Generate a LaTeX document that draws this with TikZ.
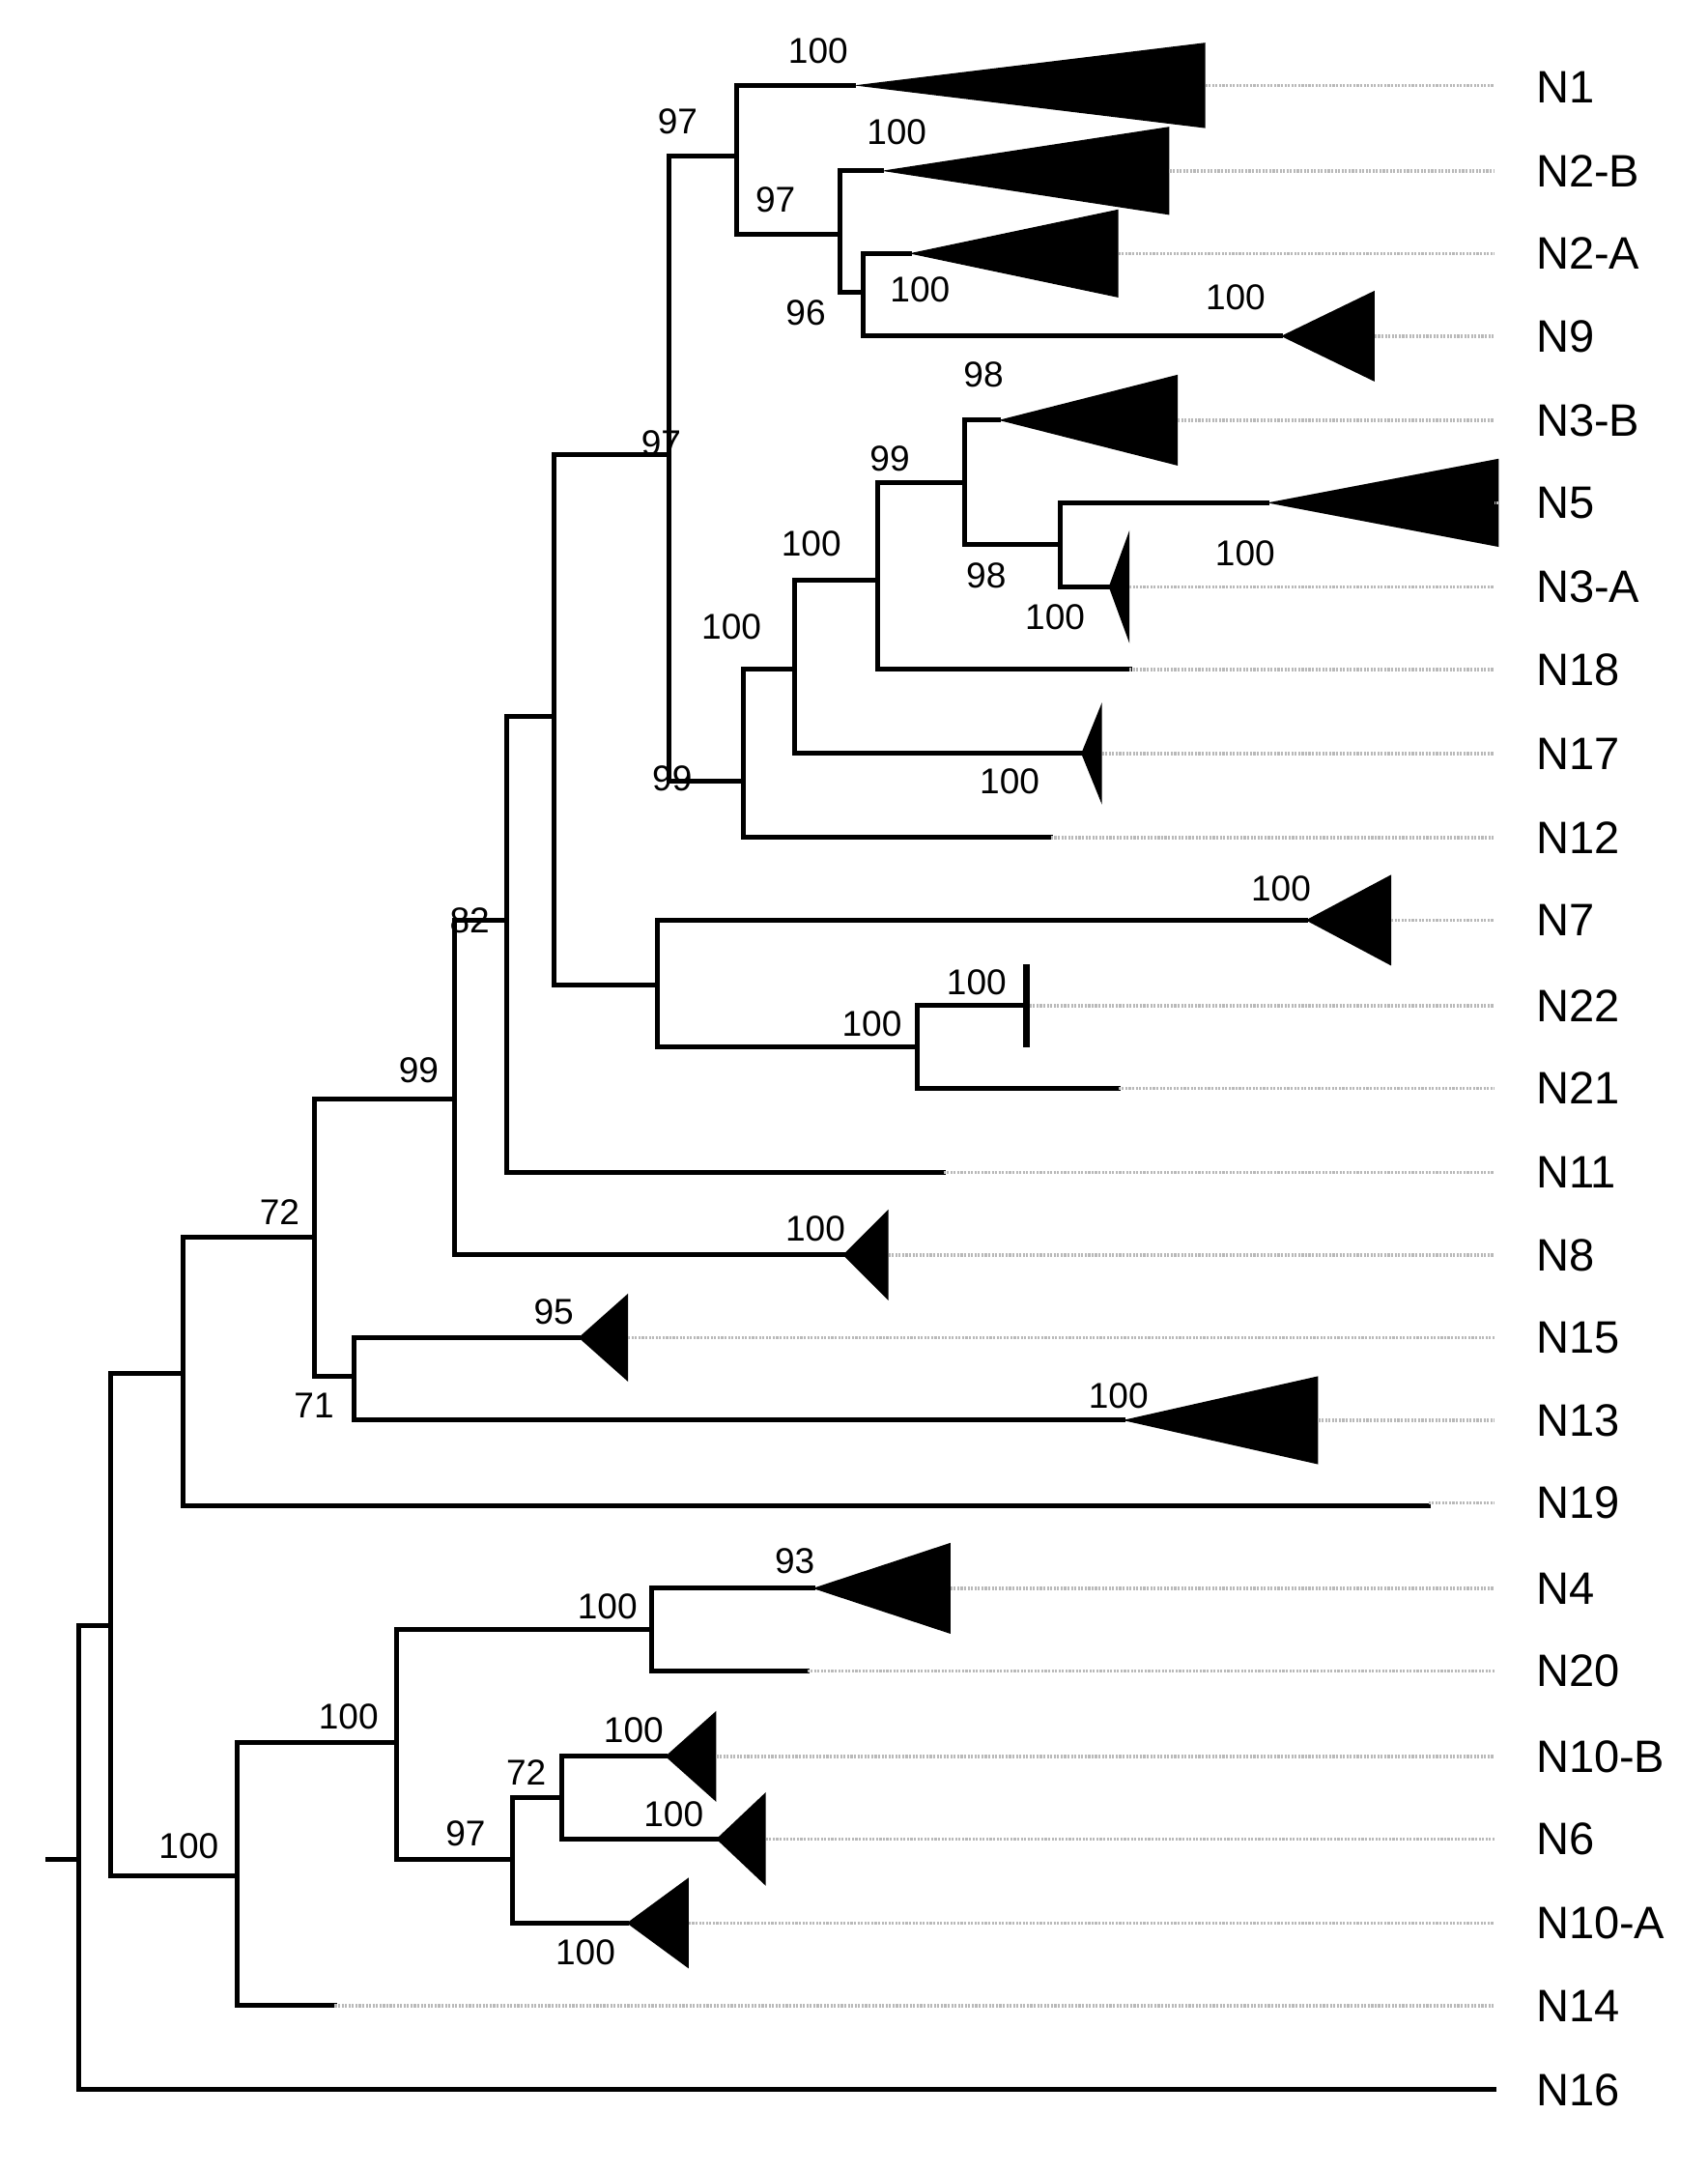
\documentclass[tikz,border=0pt]{standalone}
\usepackage{fontspec}
\setmainfont{Liberation Sans}
\begin{document}
\begin{tikzpicture}[x=1pt,y=-1pt,
  br/.style={line width=3.5pt,line cap=rect},
  dot/.style={gray!55,line width=2.5pt,dash pattern=on 1.5pt off 1pt},
  tri/.style={fill=black},
  sup/.style={font=\fontsize{26}{26}\selectfont,inner sep=0pt},
  lab/.style={font=\fontsize{33}{33}\selectfont,anchor=west,inner sep=0pt}]
\useasboundingbox (0,0) rectangle (1240,1576);
\newcommand\tclade[5]{\draw[br] (#2,#1) -- (#3,#1);
  \fill (#3,#1) -- (#4,#1-#5) -- (#4,#1+#5) -- cycle;
  \draw[dot] (#4,#1) -- (1085,#1);}
\newcommand\tleaf[3]{\draw[br] (#2,#1) -- (#3,#1); \draw[dot] (#3,#1) -- (1085,#1);}
\newcommand\vbar[3]{\draw[br] (#1,#2) -- (#1,#3);}
\foreach \t/\y in {N1/63,N2-B/124,N2-A/184,N9/244,N3-B/305,N5/365,N3-A/426,N18/486,N17/547,N12/608,N7/668,N22/730,N21/790,N11/851,N8/911,N15/971,N13/1031,N19/1091,N4/1153,N20/1213,N10-B/1275,N6/1335,N10-A/1396,N14/1456,N16/1517}
  \node[lab] (l\t) at (1115,\y) {\t};
\draw[br] (35,1350) -- (57,1350);
\vbar{57}{1180}{1517}
\draw[br] (57,1517) -- (1085,1517);
\draw[br] (57,1180) -- (80,1180);
\vbar{80}{997}{1362}
\draw[br] (80,997) -- (133,997); \draw[br] (80,1362) -- (172,1362);
\vbar{133}{898}{1093}
\draw[br] (133,898) -- (228,898);
\draw[br] (133,1093) -- (1037,1093); \draw[dot] (1037,1091) -- (1085,1091);
\vbar{228}{798}{999}
\draw[br] (228,798) -- (330,798); \draw[br] (228,999) -- (257,999);
\vbar{257}{971}{1031}
\tclade{971}{257}{420}{456}{32}
\tclade{1031}{257}{815}{957}{32}
\vbar{330}{668}{911}
\draw[br] (330,668) -- (368,668);
\tclade{911}{330}{612}{645}{33}
\vbar{368}{520}{851}
\draw[br] (368,520) -- (402,520);
\tleaf{851}{368}{685}
\vbar{402}{330}{715}
\draw[br] (402,330) -- (486,330); \draw[br] (402,715) -- (477,715);
\vbar{486}{113}{567}
\draw[br] (486,113) -- (535,113); \draw[br] (486,567) -- (540,567);
\vbar{535}{62}{170}
\tclade{62}{535}{620}{875}{31}
\draw[br] (535,170) -- (610,170);
\vbar{610}{124}{212}
\tclade{124}{610}{640}{849}{32}
\draw[br] (610,212) -- (627,212);
\vbar{627}{184}{244}
\tclade{184}{627}{660}{812}{32}
\tclade{244}{627}{930}{998}{33}
\vbar{540}{486}{608}
\draw[br] (540,486) -- (577,486);
\tleaf{608}{540}{763}
\vbar{577}{421}{547}
\draw[br] (577,421) -- (637,421);
\tclade{547}{577}{785}{800}{37}
\vbar{637}{350}{486}
\draw[br] (637,350) -- (700,350);
\tleaf{486}{637}{820}
\vbar{700}{305}{395}
\tclade{305}{700}{725}{855}{33}
\draw[br] (700,395) -- (770,395);
\vbar{770}{365}{426}
\tclade{365}{770}{920}{1088}{32}
\tclade{426}{770}{805}{820}{41}
\vbar{477}{668}{760}
\tclade{668}{477}{948}{1010}{33}
\draw[br] (477,760) -- (666,760);
\vbar{666}{730}{790}
\tleaf{730}{666}{745}
\draw[line width=5pt] (745,700) -- (745,760);
\tleaf{790}{666}{812}
\vbar{172}{1265}{1456}
\draw[br] (172,1265) -- (288,1265);
\tleaf{1456}{172}{243}
\vbar{288}{1183}{1350}
\draw[br] (288,1183) -- (473,1183); \draw[br] (288,1350) -- (372,1350);
\vbar{473}{1153}{1213}
\tclade{1153}{473}{590}{690}{33}
\tleaf{1213}{473}{586}
\vbar{372}{1305}{1396}
\draw[br] (372,1305) -- (408,1305);
\tclade{1396}{372}{455}{500}{33}
\vbar{408}{1275}{1335}
\tclade{1275}{408}{483}{520}{33}
\tclade{1335}{408}{520}{556}{34}
\foreach \t/\x/\y in {100/594/37,97/492/88,100/651/96,97/563/145,96/585/227,100/668/210,100/897/216,98/714/272,97/480/322,99/646/333,100/589/395,98/716/418,100/904/402,100/766/448,100/531/455,99/488/565,100/733/567,100/930/645,100/709/713,100/633/743,82/341/668,99/304/777,72/203/880,100/592/892,95/402/952,71/228/1020,100/812/1013,93/577/1133,100/441/1166,100/253/1246,100/460/1256,72/382/1287,100/489/1317,97/338/1331,100/137/1340,100/425/1417}
  \node[sup] (s\x-\y) at (\x,\y) {\t};
\end{tikzpicture}
\end{document}
